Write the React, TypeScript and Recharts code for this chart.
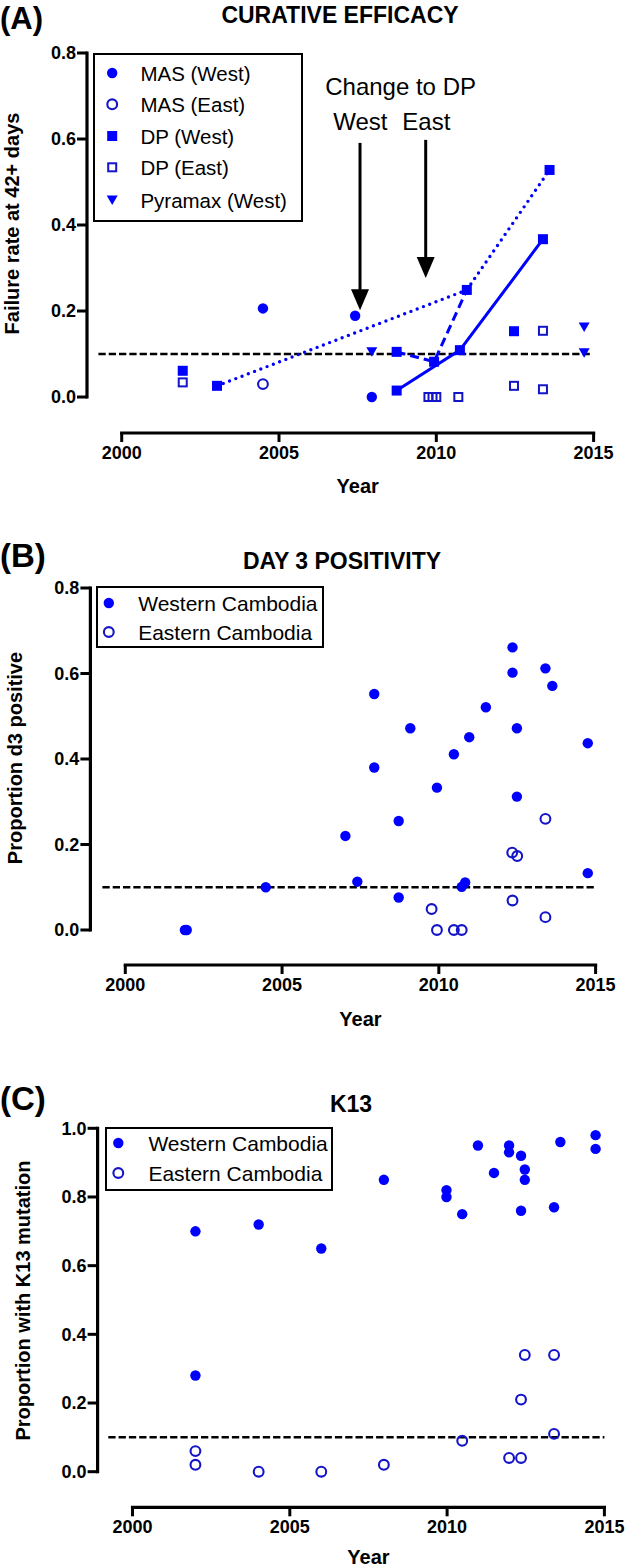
import React from "react";
import {
  ScatterChart,
  Scatter,
  XAxis,
  YAxis,
  ReferenceLine,
  ReferenceDot,
  Legend,
} from "recharts";

const FONT = '"Liberation Sans", Arial, Helvetica, sans-serif';
const BLUE = "#0000ff";
const OPEN = "#1414c8";

const yearTicks = [2000, 2005, 2010, 2015];
const lowTicks = [0, 0.2, 0.4, 0.6, 0.8];
const k13Ticks = [0, 0.2, 0.4, 0.6, 0.8, 1.0];
const threshold = 0.1;

// (A) curative efficacy, [year, failure rate]
const masWest = [[2004.49, 0.206], [2007.42, 0.189], [2007.95, 0]];
const masEast = [[2004.49, 0.03]];
const dpWest = [
  [2001.94, 0.061], [2003.03, 0.026], [2008.74, 0.105], [2008.74, 0.015],
  [2009.93, 0.082], [2010.75, 0.109], [2010.97, 0.249], [2012.47, 0.153],
  [2013.39, 0.367], [2013.6, 0.528],
];
const dpEast = [
  [2001.94, 0.034], [2009.75, 0], [2009.88, 0], [2010.0, 0], [2010.7, 0],
  [2012.47, 0.026], [2013.39, 0.154], [2013.39, 0.018],
];
const pyramaxWest = [[2007.95, 0.105], [2014.7, 0.163], [2014.7, 0.103]];
// trend lines joining some of the DP (West) studies
const dottedTrend = [dpWest[1], dpWest[6], dpWest[9]];
const dashedTrend = [dpWest[2], dpWest[4], dpWest[6]];
const solidTrend = [dpWest[3], dpWest[5], dpWest[8]];

// (B) day 3 positivity, [year, proportion]
const d3West = [
  [2001.9, 0], [2001.96, 0], [2004.48, 0.1], [2007.02, 0.22], [2007.4, 0.113],
  [2007.94, 0.38], [2007.94, 0.552], [2008.72, 0.255], [2008.72, 0.076],
  [2009.09, 0.472], [2009.94, 0.333], [2010.48, 0.411], [2010.73, 0.101],
  [2010.84, 0.111], [2010.97, 0.451], [2011.5, 0.521], [2012.35, 0.661],
  [2012.35, 0.602], [2012.49, 0.472], [2012.49, 0.312], [2013.4, 0.612],
  [2013.62, 0.571], [2014.75, 0.437], [2014.75, 0.133],
];
const d3East = [
  [2009.77, 0.049], [2009.94, 0], [2010.48, 0], [2010.73, 0], [2012.34, 0.181],
  [2012.5, 0.173], [2012.35, 0.069], [2013.4, 0.26], [2013.4, 0.03],
];

// (C) K13 mutation, [year, proportion]
const k13West = [
  [2002.0, 0.7], [2002.0, 0.28], [2004.01, 0.72], [2006.0, 0.65], [2007.99, 0.85],
  [2009.98, 0.82], [2009.98, 0.8], [2010.48, 0.75], [2010.98, 0.95], [2011.49, 0.87],
  [2011.97, 0.95], [2011.97, 0.93], [2012.35, 0.92], [2012.47, 0.88], [2012.47, 0.85],
  [2012.35, 0.76], [2013.4, 0.77], [2013.6, 0.96], [2014.72, 0.98], [2014.72, 0.94],
];
const k13East = [
  [2002.0, 0.06], [2002.0, 0.02], [2004.01, 0], [2006.0, 0], [2007.99, 0.02],
  [2010.48, 0.09], [2011.97, 0.04], [2012.35, 0.04], [2012.35, 0.21],
  [2012.47, 0.34], [2013.4, 0.34], [2013.4, 0.11],
];

const pts = (rows: number[][]) => rows.map(([x, y]) => ({ x, y }));

// marker shapes
const FilledCircle = (p: any) => <circle cx={p.cx} cy={p.cy} r={5.2} fill={BLUE} />;
const OpenCircle = (p: any) => (
  <circle cx={p.cx} cy={p.cy} r={4.9} fill="none" stroke={OPEN} strokeWidth={2.1} />
);
const FilledSquare = (p: any) => (
  <rect x={p.cx - 5} y={p.cy - 5} width={10} height={10} fill={BLUE} />
);
const OpenSquare = (p: any) => (
  <rect x={p.cx - 4} y={p.cy - 4} width={8} height={8} fill="none" stroke={OPEN} strokeWidth={2} />
);
const DownTriangle = (p: any) => (
  <path d={`M${p.cx - 5.5},${p.cy - 4.5}L${p.cx + 5.5},${p.cy - 4.5}L${p.cx},${p.cy + 5}Z`} fill={BLUE} />
);
const NoMark = () => <g />;
const ArrowHead = (p: any) => (
  <path d={`M${p.cx - 9},${p.cy - 21}L${p.cx + 9},${p.cy - 21}L${p.cx},${p.cy}Z`} fill="#000" />
);

const tickText = { fill: "#000", fontSize: 18, fontWeight: 700, fontFamily: FONT };
const tickLine = { stroke: "#000", strokeWidth: 3 };
const fmt1 = (v: number) => v.toFixed(1);

function LegendBox({ items, w, h, markerX, textX, rowY, fontSize }: any) {
  return (
    <svg width={w} height={h} style={{ display: "block" }}>
      <rect x={1} y={1} width={w - 2} height={h - 2} fill="#fff" stroke="#000" strokeWidth={2} />
      {items.map((it: any, i: number) => (
        <g key={it.label}>
          {it.shape({ cx: markerX, cy: rowY[i] })}
          <text
            x={textX}
            y={rowY[i]}
            dominantBaseline="central"
            fontSize={fontSize}
            fontFamily={FONT}
            fill="#000"
          >
            {it.label}
          </text>
        </g>
      ))}
    </svg>
  );
}

const legendA = [
  { label: "MAS (West)", shape: FilledCircle },
  { label: "MAS (East)", shape: OpenCircle },
  { label: "DP (West)", shape: FilledSquare },
  { label: "DP (East)", shape: OpenSquare },
  { label: "Pyramax (West)", shape: DownTriangle },
];
const legendRegion = [
  { label: "Western Cambodia", shape: FilledCircle },
  { label: "Eastern Cambodia", shape: OpenCircle },
];

const A_XMIN = 1998.897;
const A_YMIN = -0.0837;
const B_XMIN = 1998.887;
const B_YMIN = -0.0819;
const C_XMIN = 1998.89;
const C_YMIN = -0.1037;

function axisFrame(xMin: number, yMin: number, yTop: number) {
  return [
    <ReferenceLine
      key="yline"
      segment={[{ x: xMin, y: 0 }, { x: xMin, y: yTop }]}
      stroke="#000"
      strokeWidth={3.2}
      strokeLinecap="square"
      ifOverflow="visible"
    />,
    <ReferenceLine
      key="xline"
      segment={[{ x: 2000, y: yMin }, { x: 2015, y: yMin }]}
      stroke="#000"
      strokeWidth={3.2}
      strokeLinecap="square"
      ifOverflow="visible"
    />,
  ];
}

function thresholdLine(x0: number, x1: number) {
  return (
    <ReferenceLine
      segment={[{ x: x0, y: threshold }, { x: x1, y: threshold }]}
      stroke="#000"
      strokeWidth={2.5}
      strokeDasharray="7.3 3"
      ifOverflow="visible"
    />
  );
}

const txt = (
  t: string,
  x: number,
  y: number,
  size: number,
  opts: { bold?: boolean; anchor?: string; rotate?: boolean } = {}
) => (
  <text
    key={t + x + y}
    x={x}
    y={y}
    fontSize={size}
    fontWeight={opts.bold === false ? 400 : 700}
    fontFamily={FONT}
    textAnchor={opts.anchor || "middle"}
    transform={opts.rotate ? `rotate(-90 ${x} ${y})` : undefined}
    fill="#000"
  >
    {t}
  </text>
);

export default function App() {
  return (
    <div
      style={{
        position: "absolute",
        left: 0,
        top: 0,
        width: 630,
        height: 1568,
        background: "#fff",
        overflow: "hidden",
      }}
    >
      {/* (A) */}
      <div style={{ position: "absolute", left: 0, top: 0 }}>
        <ScatterChart width={630} height={480} margin={{ top: 53, right: 36.4, bottom: 7, left: 0 }}>
          <XAxis
            type="number"
            dataKey="x"
            domain={[A_XMIN, 2015]}
            ticks={yearTicks}
            interval={0}
            allowDataOverflow
            axisLine={false}
            tickLine={tickLine}
            tickSize={9}
            tickMargin={4}
            tick={tickText}
            height={40}
          />
          <YAxis
            type="number"
            dataKey="y"
            domain={[A_YMIN, 0.8]}
            ticks={lowTicks}
            interval={0}
            allowDataOverflow
            axisLine={false}
            tickLine={tickLine}
            tickSize={10}
            tickMargin={1}
            tick={tickText}
            tickFormatter={fmt1}
            width={87}
          />
          {axisFrame(A_XMIN, A_YMIN, 0.8)}
          {thresholdLine(1999.26, 2014.97)}
          <ReferenceLine
            segment={[{ x: 2007.575, y: 0.591 }, { x: 2007.575, y: 0.24 }]}
            stroke="#000"
            strokeWidth={3}
          />
          <ReferenceDot x={2007.575} y={0.202} shape={ArrowHead} />
          <ReferenceLine
            segment={[{ x: 2009.663, y: 0.598 }, { x: 2009.663, y: 0.31 }]}
            stroke="#000"
            strokeWidth={3}
          />
          <ReferenceDot x={2009.663} y={0.277} shape={ArrowHead} />
          <Scatter
            data={pts(dottedTrend)}
            shape={NoMark}
            line={{ stroke: BLUE, strokeWidth: 3.4, strokeDasharray: "0 6.7", strokeLinecap: "round" }}
            isAnimationActive={false}
          />
          <Scatter
            data={pts(dashedTrend)}
            shape={NoMark}
            line={{ stroke: BLUE, strokeWidth: 3, strokeDasharray: "9 5" }}
            isAnimationActive={false}
          />
          <Scatter
            data={pts(solidTrend)}
            shape={NoMark}
            line={{ stroke: BLUE, strokeWidth: 3 }}
            isAnimationActive={false}
          />
          <Scatter data={pts(masWest)} shape={FilledCircle} isAnimationActive={false} />
          <Scatter data={pts(masEast)} shape={OpenCircle} isAnimationActive={false} />
          <Scatter data={pts(dpWest)} shape={FilledSquare} isAnimationActive={false} />
          <Scatter data={pts(dpEast)} shape={OpenSquare} isAnimationActive={false} />
          <Scatter data={pts(pyramaxWest)} shape={DownTriangle} isAnimationActive={false} />
          <Legend
            layout="horizontal"
            align="center"
            verticalAlign="middle"
            wrapperStyle={{ left: 93.2, top: 53, width: 210, height: 169 }}
            content={() => (
              <LegendBox
                items={legendA}
                w={210}
                h={169}
                markerX={19.2}
                textX={47.4}
                rowY={[20, 51.3, 83, 114.3, 147]}
                fontSize={20.5}
              />
            )}
          />
        </ScatterChart>
      </div>

      {/* (B) */}
      <div style={{ position: "absolute", left: 0, top: 500 }}>
        <ScatterChart width={630} height={500} margin={{ top: 88, right: 34.4, bottom: 5, left: 0 }}>
          <XAxis
            type="number"
            dataKey="x"
            domain={[B_XMIN, 2015]}
            ticks={yearTicks}
            interval={0}
            allowDataOverflow
            axisLine={false}
            tickLine={tickLine}
            tickSize={9}
            tickMargin={4}
            tick={tickText}
            height={30}
          />
          <YAxis
            type="number"
            dataKey="y"
            domain={[B_YMIN, 0.8]}
            ticks={lowTicks}
            interval={0}
            allowDataOverflow
            axisLine={false}
            tickLine={tickLine}
            tickSize={10}
            tickMargin={1}
            tick={tickText}
            tickFormatter={fmt1}
            width={90.4}
          />
          {axisFrame(B_XMIN, B_YMIN, 0.8)}
          {thresholdLine(1999.27, 2014.96)}
          <Scatter data={pts(d3West)} shape={FilledCircle} isAnimationActive={false} />
          <Scatter data={pts(d3East)} shape={OpenCircle} isAnimationActive={false} />
          <Legend
            layout="horizontal"
            align="center"
            verticalAlign="middle"
            wrapperStyle={{ left: 96.4, top: 86, width: 228, height: 62 }}
            content={() => (
              <LegendBox
                items={legendRegion}
                w={228}
                h={62}
                markerX={12.8}
                textX={42.2}
                rowY={[17, 46]}
                fontSize={21}
              />
            )}
          />
        </ScatterChart>
      </div>

      {/* (C) */}
      <div style={{ position: "absolute", left: 0, top: 1040 }}>
        <ScatterChart width={630} height={528} margin={{ top: 88.3, right: 25.6, bottom: 20.7, left: 0 }}>
          <XAxis
            type="number"
            dataKey="x"
            domain={[C_XMIN, 2015]}
            ticks={yearTicks}
            interval={0}
            allowDataOverflow
            axisLine={false}
            tickLine={tickLine}
            tickSize={9}
            tickMargin={4}
            tick={tickText}
            height={40}
          />
          <YAxis
            type="number"
            dataKey="y"
            domain={[C_YMIN, 1.0]}
            ticks={k13Ticks}
            interval={0}
            allowDataOverflow
            axisLine={false}
            tickLine={tickLine}
            tickSize={10}
            tickMargin={1}
            tick={tickText}
            tickFormatter={fmt1}
            width={97.6}
          />
          {axisFrame(C_XMIN, C_YMIN, 1.0)}
          {thresholdLine(1999.23, 2015)}
          <Scatter data={pts(k13West)} shape={FilledCircle} isAnimationActive={false} />
          <Scatter data={pts(k13East)} shape={OpenCircle} isAnimationActive={false} />
          <Legend
            layout="horizontal"
            align="center"
            verticalAlign="middle"
            wrapperStyle={{ left: 105.2, top: 87, width: 228, height: 64 }}
            content={() => (
              <LegendBox
                items={legendRegion}
                w={228}
                h={64}
                markerX={13.3}
                textX={43.4}
                rowY={[16, 46]}
                fontSize={21}
              />
            )}
          />
        </ScatterChart>
      </div>

      {/* titles and axis labels */}
      <svg
        width={630}
        height={1568}
        style={{ position: "absolute", left: 0, top: 0, pointerEvents: "none" }}
      >
        {txt("(A)", 0, 28.5, 31, { anchor: "start" })}
        {txt("CURATIVE EFFICACY", 340, 23.3, 23)}
        {txt("Change to DP", 400.6, 95, 24, { bold: false })}
        {txt("West", 360.4, 130, 24, { bold: false })}
        {txt("East", 426.3, 130, 24, { bold: false })}
        {txt("Failure rate at 42+ days", 18.5, 223.5, 20, { rotate: true })}
        {txt("Year", 357.7, 493.3, 20)}

        {txt("(B)", 0, 567, 33, { anchor: "start" })}
        {txt("DAY 3 POSITIVITY", 342, 569.3, 23)}
        {txt("Proportion d3 positive", 22, 758, 20, { rotate: true })}
        {txt("Year", 360.5, 1026, 20)}

        {txt("(C)", 0, 1110, 33, { anchor: "start" })}
        {txt("K13", 351, 1111.7, 23)}
        {txt("Proportion with K13 mutation", 30, 1300.5, 20, { rotate: true })}
        {txt("Year", 368.5, 1563.5, 20)}
      </svg>
    </div>
  );
}
